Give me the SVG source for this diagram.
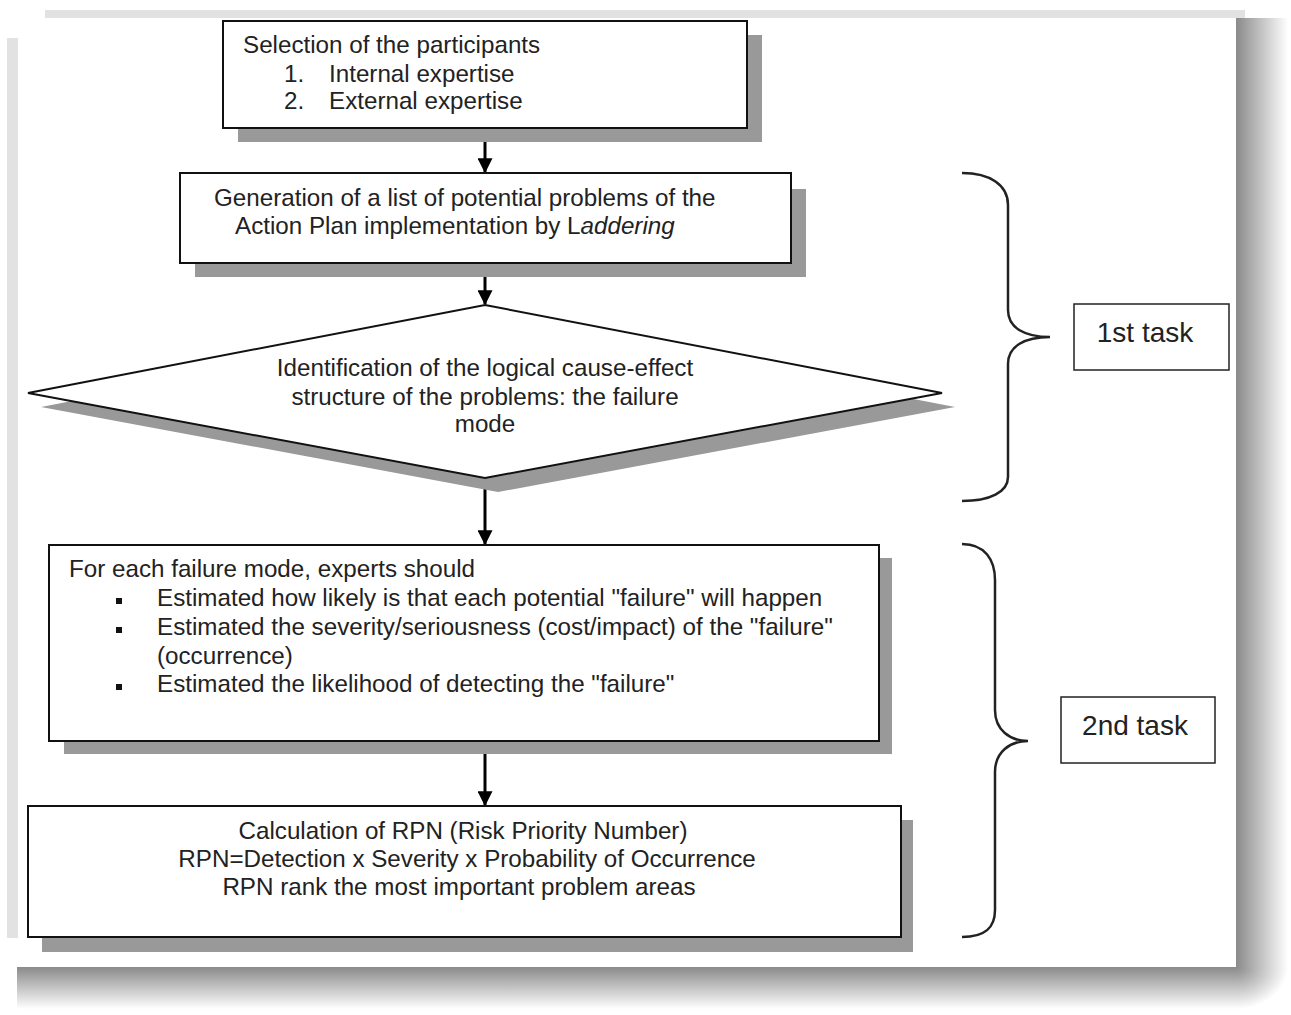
<svg xmlns="http://www.w3.org/2000/svg" width="1291" height="1015" viewBox="0 0 1291 1015">
<style>
.box{fill:#fff;stroke:#111;stroke-width:2}
.sh{fill:#999}
.t{font-family:"Liberation Sans",Arial,sans-serif;font-size:24.2px;fill:#222}
.tc{text-anchor:middle}
.conn{stroke:#000;stroke-width:3;fill:none}
.brace{stroke:#222;stroke-width:2.5;fill:none}
.lbl{fill:#fff;stroke:#222;stroke-width:1.5}
.tl{font-size:28px}
</style>
<defs>
<marker id="ah" markerWidth="5" markerHeight="5" refX="4.6" refY="2.5" orient="auto" markerUnits="strokeWidth">
<path d="M0,0 L5,2.5 L0,5 Z" fill="#000"/>
</marker>
<linearGradient id="gr" x1="0" y1="0" x2="1" y2="0">
<stop offset="0" stop-color="#8a8a8a"/>
<stop offset="1" stop-color="#fff"/>
</linearGradient>
<linearGradient id="gb" x1="0" y1="0" x2="0" y2="1">
<stop offset="0" stop-color="#8a8a8a"/>
<stop offset="1" stop-color="#fff"/>
</linearGradient>
<radialGradient id="gc" cx="0" cy="0" r="1">
<stop offset="0" stop-color="#8a8a8a"/>
<stop offset="1" stop-color="#fff"/>
</radialGradient>
</defs>
<rect width="1291" height="1015" fill="#fff"/>
<g id="page">
<rect x="45" y="10" width="1200" height="8" fill="#e2e2e2"/>
<rect x="7" y="38" width="11" height="900" fill="#e2e2e2"/>
<rect x="1236" y="18" width="52" height="949" fill="url(#gr)"/>
<rect x="17" y="967" width="1219" height="42" fill="url(#gb)"/>
<rect x="1236" y="967" width="52" height="42" fill="url(#gc)"/>
<rect x="45" y="18" width="1191" height="949" fill="#fff"/>
</g>
<g id="connectors">
<line class="conn" x1="485" y1="128" x2="485" y2="172" marker-end="url(#ah)"/>
<line class="conn" x1="485" y1="263" x2="485" y2="304" marker-end="url(#ah)"/>
<line class="conn" x1="485" y1="478" x2="485" y2="544" marker-end="url(#ah)"/>
<line class="conn" x1="485" y1="741" x2="485" y2="805" marker-end="url(#ah)"/>
</g>
<g id="n1">
<rect class="sh" x="238" y="35" width="524" height="107"/>
<rect class="box" x="223" y="21" width="524" height="107"/>
<text class="t" x="243" y="53">Selection of the participants</text>
<text class="t" x="284" y="82">1.</text>
<text class="t" x="329" y="82">Internal expertise</text>
<text class="t" x="284" y="109">2.</text>
<text class="t" x="329" y="109">External expertise</text>
</g>
<g id="n2">
<rect class="sh" x="195" y="189" width="611" height="88"/>
<rect class="box" x="180" y="173" width="611" height="90"/>
<text class="t" x="214" y="206">Generation of a list of potential problems of the</text>
<text class="t" x="235" y="234">Action Plan implementation by L<tspan font-style="italic">addering</tspan></text>
</g>
<g id="n3">
<polygon class="sh" points="498,319 955,407 498,492 41,407"/>
<polygon class="box" points="485,305 942,393 485,478 28,393"/>
<text class="t tc" x="485" y="376">Identification of the logical cause-effect</text>
<text class="t tc" x="485" y="405">structure of the problems: the failure</text>
<text class="t tc" x="485" y="432">mode</text>
</g>
<g id="n4">
<rect class="sh" x="64" y="558" width="828" height="196"/>
<rect class="box" x="49" y="545" width="830" height="196"/>
<text class="t" x="69" y="577">For each failure mode, experts should</text>
<rect x="116" y="598" width="6" height="6" fill="#111"/>
<text class="t" x="157" y="606">Estimated how likely is that each potential "failure" will happen</text>
<rect x="116" y="627" width="6" height="6" fill="#111"/>
<text class="t" x="157" y="635">Estimated the severity/seriousness (cost/impact) of the "failure"</text>
<text class="t" x="157" y="664">(occurrence)</text>
<rect x="116" y="684" width="6" height="6" fill="#111"/>
<text class="t" x="157" y="692">Estimated the likelihood of detecting the "failure"</text>
</g>
<g id="n5">
<rect class="sh" x="42" y="820" width="871" height="132"/>
<rect class="box" x="28" y="806" width="873" height="131"/>
<text class="t tc" x="463" y="839">Calculation of RPN (Risk Priority Number)</text>
<text class="t tc" x="467" y="867">RPN=Detection x Severity x Probability of Occurrence</text>
<text class="t tc" x="459" y="895">RPN rank the most important problem areas</text>
</g>
<g id="brace1">
<path class="brace" d="M962 173 C990 173 1008 185 1008 205 L1008 310 C1008 328 1025 337 1050 337 C1025 337 1008 346 1008 364 L1008 477 C1008 492 990 501 962 501"/>
</g>
<g id="task1">
<rect class="lbl" x="1074" y="304" width="155" height="66"/>
<text class="t tc tl" x="1145" y="342">1st task</text>
</g>
<g id="brace2">
<path class="brace" d="M962 544 C985 544 995 560 995 580 L995 710 C995 730 1010 741 1028 741 C1010 741 995 752 995 772 L995 910 C995 928 985 937 962 937"/>
</g>
<g id="task2">
<rect class="lbl" x="1061" y="697" width="154" height="66"/>
<text class="t tc tl" x="1135" y="735">2nd task</text>
</g>
</svg>
